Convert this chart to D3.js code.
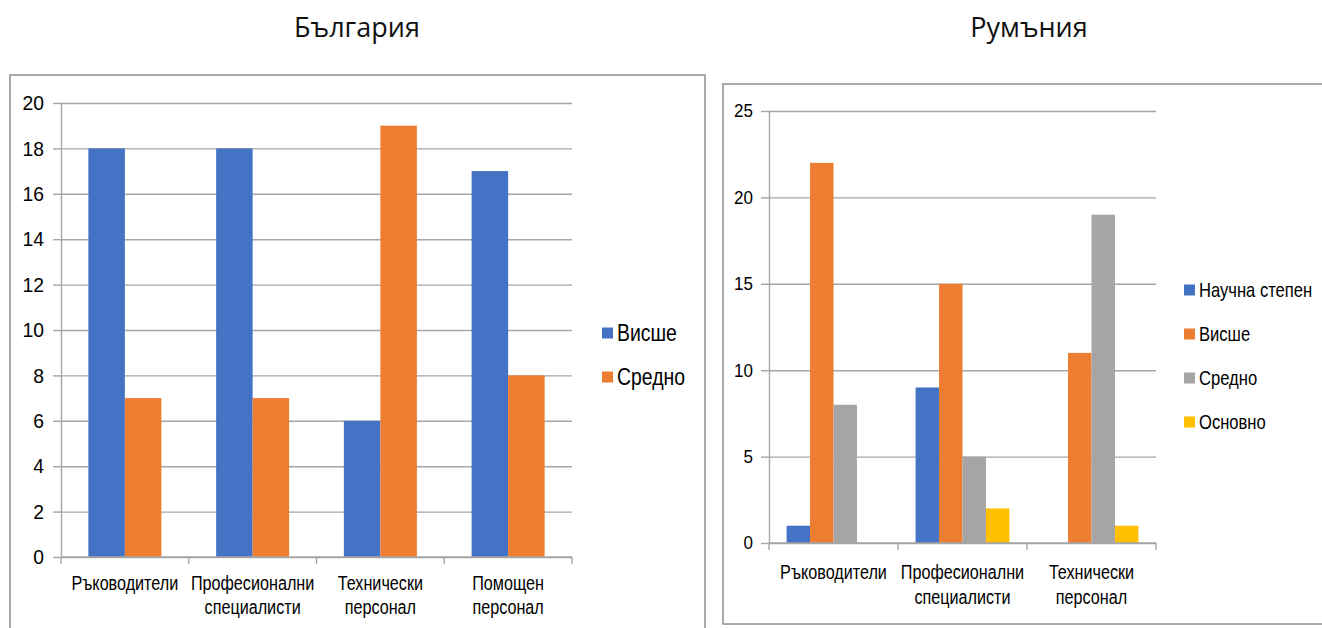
<!DOCTYPE html>
<html><head><meta charset="utf-8">
<script src="https://cdn.jsdelivr.net/npm/d3@7"></script>
<style>body{margin:0;background:#fff} svg{display:block}</style>
</head><body><svg id="c" width="1322" height="628"></svg>
<script>
// ---- data ----
const bgTitle = "България";
const bgCategories = ["Ръководители", "Професионални специалисти", "Технически персонал", "Помощен персонал"];
const bgSeries = ["Висше", "Средно"];
const bgHigher = [18, 18, 6, 17];
const bgSecondary = [7, 7, 19, 8];
const bgTicks = [0, 2, 4, 6, 8, 10, 12, 14, 16, 18, 20];

const roTitle = "Румъния";
const roCategories = ["Ръководители", "Професионални специалисти", "Технически персонал"];
const roSeries = ["Научна степен", "Висше", "Средно", "Основно"];
const roDegree = [1, 9, 0];
const roHigher = [22, 15, 11];
const roSecondary = [8, 5, 19];
const roPrimary = [0, 2, 1];
const roTicks = [0, 5, 10, 15, 20, 25];

const colors = ["#4472C4", "#ED7D31", "#A5A5A5", "#FFC000"];
const AXIS_FONT = "'Liberation Sans', Arial, sans-serif";
const TITLE_FONT = "'Open Sans', 'Noto Sans', sans-serif";
const YCOND = 0.92;

const svg = d3.select("#c");

function drawChart(cfg) {
  const g = svg.append("g");
  // frame
  g.append("rect").attr("x", cfg.frame[0]).attr("y", cfg.frame[1])
    .attr("width", cfg.frame[2]).attr("height", cfg.frame[3])
    .attr("fill", "none").attr("stroke", "#8f8f8f").attr("stroke-width", 1.5);
  // title
  svg.append("text").attr("x", cfg.titleX).attr("y", 37).attr("text-anchor", "middle")
    .attr("font-family", TITLE_FONT).attr("font-size", cfg.titleSize).attr("fill", "#111")
    .text(cfg.title);

  const x0 = d3.scaleBand().domain(cfg.categories).range([cfg.left, cfg.right]).paddingInner(0).paddingOuter(0);
  const x1 = d3.scaleBand().domain(cfg.series).range([0, x0.bandwidth()]).paddingInner(0).paddingOuter(0.75);
  const y = d3.scaleLinear().domain([0, cfg.max]).range([cfg.bottom, cfg.top]);

  // grid
  const grid = g.append("g").attr("transform", `translate(${cfg.left},0)`)
    .call(d3.axisLeft(y).tickValues(cfg.ticks).tickSize(-(cfg.right - cfg.left)).tickFormat(""));
  grid.select(".domain").remove();
  grid.selectAll(".tick line").attr("stroke", "#a6a6a6").attr("stroke-width", 1.4);

  // y axis with labels
  const ya = g.append("g").attr("transform", `translate(${cfg.left},0)`)
    .call(d3.axisLeft(y).tickValues(cfg.ticks).tickSize(8).tickSizeOuter(0).tickPadding(cfg.yPad));
  ya.select(".domain").attr("stroke", "#a6a6a6").attr("stroke-width", 1.4);
  ya.selectAll(".tick line").attr("stroke", "#a6a6a6").attr("stroke-width", 1.4);
  ya.selectAll(".tick text").attr("font-family", AXIS_FONT).attr("font-size", cfg.ySize).attr("fill", "#000")
    .attr("x", -(8 + cfg.yPad) / YCOND).attr("transform", `scale(${YCOND},1)`);

  // bars
  const rows = cfg.categories.map((c, i) => ({ c, vals: cfg.values.map(v => v[i]) }));
  const grp = g.selectAll(".grp").data(rows).join("g").attr("transform", d => `translate(${x0(d.c)},0)`);
  grp.selectAll("rect").data(d => d.vals.map((v, j) => ({ v, s: cfg.series[j], j })))
    .join("rect")
    .attr("x", d => x1(d.s)).attr("width", x1.bandwidth())
    .attr("y", d => y(d.v)).attr("height", d => y(0) - y(d.v))
    .attr("fill", d => colors[cfg.colorIdx[d.j]]);

  // x axis: baseline and boundary ticks
  const bounds = cfg.categories.map(c => x0(c)).concat([x0(cfg.categories[cfg.categories.length - 1]) + x0.bandwidth()]);
  g.append("line").attr("x1", cfg.left).attr("x2", cfg.right).attr("y1", y(0)).attr("y2", y(0))
    .attr("stroke", "#a6a6a6").attr("stroke-width", 1.4);
  g.selectAll(".bt").data(bounds).join("line")
    .attr("x1", d => d).attr("x2", d => d).attr("y1", y(0)).attr("y2", y(0) + 7)
    .attr("stroke", "#a6a6a6").attr("stroke-width", 1.4);
  // category labels
  const xa = g.append("g").attr("transform", `translate(0,${y(0)})`)
    .call(d3.axisBottom(x0).tickSize(0).tickPadding(0));
  xa.select(".domain").remove();
  xa.selectAll(".tick text").each(function (d) {
    const t = d3.select(this).text("").attr("font-family", AXIS_FONT).attr("font-size", cfg.xSize)
      .attr("fill", "#000").attr("dy", null).attr("y", 0).attr("transform", `scale(${cfg.xCond},1)`);
    d.split(" ").forEach((w, k) => {
      t.append("tspan").attr("x", 0).attr("y", cfg.xLine1 + k * cfg.xLineGap).text(w);
    });
  });

  // legend
  const lg = g.selectAll(".lg").data(cfg.series).join("g")
    .attr("transform", (d, i) => `translate(${cfg.legX},${cfg.legY + i * cfg.legGap})`);
  lg.append("rect").attr("x", 0).attr("y", -5.5).attr("width", cfg.legSw).attr("height", 11)
    .attr("fill", (d, i) => colors[cfg.colorIdx[i]]);
  lg.append("text").attr("x", (cfg.legSw + 4) / cfg.legCond).attr("y", 0).attr("dy", "0.35em")
    .attr("transform", `scale(${cfg.legCond},1)`)
    .attr("font-family", AXIS_FONT).attr("font-size", cfg.legSize).attr("fill", "#000").text(d => d);
}

drawChart({
  title: bgTitle, titleX: 357, titleSize: 27,
  frame: [10, 75, 695, 600],
  categories: bgCategories, series: bgSeries, values: [bgHigher, bgSecondary], colorIdx: [0, 1],
  ticks: bgTicks, max: 20,
  left: 61, right: 572, top: 103, bottom: 557,
  yPad: 9, ySize: 21, xSize: 21, xCond: 0.77, xLine1: 33, xLineGap: 24,
  legX: 602, legY: 333, legGap: 44, legSw: 11, legSize: 24, legCond: 0.81
});

drawChart({
  title: roTitle, titleX: 1029, titleSize: 27,
  frame: [723, 84, 640, 540],
  categories: roCategories, series: roSeries, values: [roDegree, roHigher, roSecondary, roPrimary], colorIdx: [0, 1, 2, 3],
  ticks: roTicks, max: 25,
  left: 769, right: 1156, top: 111, bottom: 543,
  yPad: 8, ySize: 18.5, xSize: 21, xCond: 0.77, xLine1: 36, xLineGap: 25,
  legX: 1184, legY: 290, legGap: 44, legSw: 11, legSize: 20, legCond: 0.83
});
</script></body></html>
